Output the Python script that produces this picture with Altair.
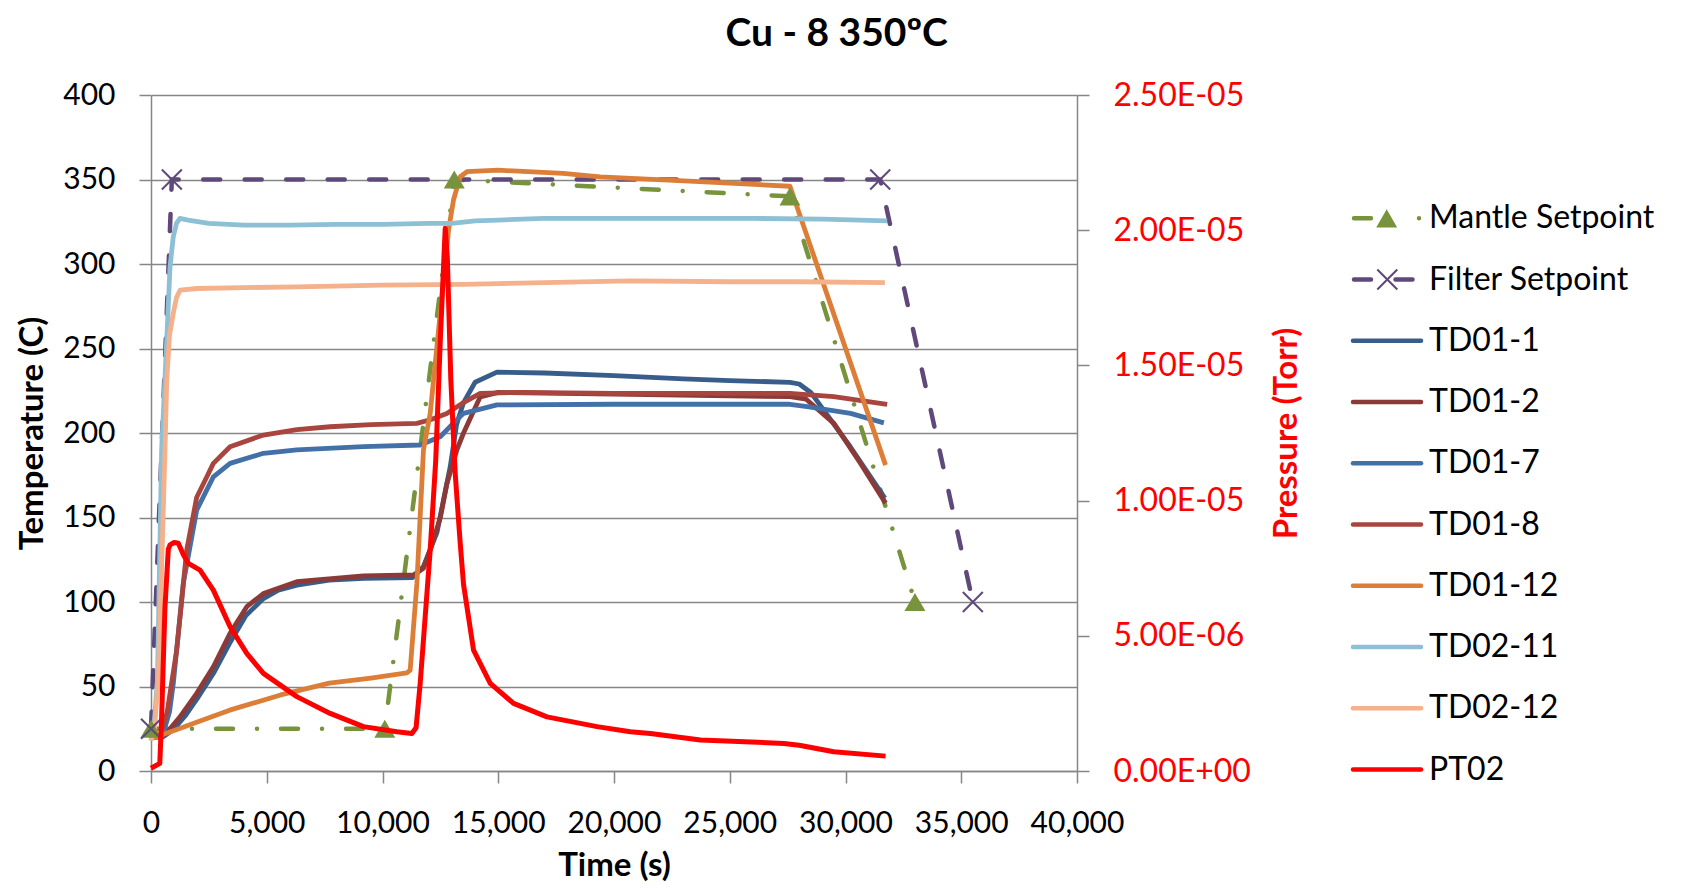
import altair as alt
import pandas as pd

# ---------------- data ----------------
series_names = ["Mantle Setpoint", "Filter Setpoint", "TD01-1", "TD01-2", "TD01-7",
                "TD01-8", "TD01-12", "TD02-11", "TD02-12", "PT02"]
series_colors = ["#77933C", "#5F497A", "#385D8A", "#8C3A37", "#4470A8",
                 "#A8453F", "#DC7E37", "#8DC0D5", "#F5B08C", "#FF0000"]

x_ticks = [0, 5000, 10000, 15000, 20000, 25000, 30000, 35000, 40000]
temp_ticks = [0, 50, 100, 150, 200, 250, 300, 350, 400]
press_ticks = [0, 5e-6, 1e-5, 1.5e-5, 2e-5, 2.5e-5]
press_labels = ["0.00E+00", "5.00E-06", "1.00E-05", "1.50E-05", "2.00E-05", "2.50E-05"]

mantle_t = [0, 10100, 13100, 27600, 33000]
mantle_v = [25, 25, 350, 340, 100]

filter_t = [0, 900, 31500, 35500]
filter_v = [25, 350, 350, 100]

td01_1_t = [0, 300, 600, 1000, 1500, 2000, 2700, 3400, 4100, 4855, 5500, 6300, 7700, 9200,
            11300, 11770, 12350, 12925, 13200, 13500, 14000, 14944, 17000, 20000, 23000,
            25000, 27600, 28000, 28500, 30200, 31700]
td01_1_v = [20, 20, 21, 25, 33, 43, 57.8, 75.7, 92, 102, 107, 110, 113, 114,
            114.5, 121, 141, 180, 205, 218, 230, 236, 235.5, 234, 232,
            231, 230, 229, 224, 192, 161.5]

td01_2_t = [0, 530, 1254, 1975, 2693, 3415, 4137, 4855, 6298, 9178, 11340, 11770, 12060,
            12500, 12781, 13213, 13500, 14222, 15000, 20000, 25000, 27600, 28300, 29500,
            30650, 31730]
td01_2_v = [20, 20.3, 32, 46, 61.7, 81.5, 97.2, 105, 112, 115.4, 116, 120, 130.8,
            150, 170, 190, 200, 221.4, 224, 223, 222, 221.5, 220, 205.7,
            182, 158.5]

td01_7_t = [0, 500, 800, 964, 1396, 1975, 2693, 3415, 4855, 6300, 9178, 11628, 12493,
            13000, 13500, 14944, 20000, 27600, 28344, 30217, 31657]
td01_7_v = [20, 21, 35, 51.9, 111, 154.4, 174, 182, 188, 190, 191.9, 192.9, 197.8,
            205, 211.6, 216.6, 217, 217, 215.6, 211.6, 206]

td01_8_t = [0, 400, 700, 1110, 1543, 1975, 2407, 2693, 3415, 4855, 6300, 7738, 9500,
            11485, 12100, 12781, 13500, 14222, 16000, 20000, 27600, 29493, 31800]
td01_8_v = [20, 21, 35, 71.6, 130.8, 162, 174, 182, 191.9, 198.8, 202, 203.7, 205,
            205.7, 208, 211.6, 218, 223.5, 224, 223.5, 223.5, 221.5, 217]

td01_12_t = [0, 170, 1000, 2000, 3400, 5600, 7700, 9500, 11050, 11195, 11485, 11770,
             12060, 12350, 12636, 12853, 13068, 13357, 13650, 15000, 17800, 19400,
             23700, 27600, 31730]
td01_12_v = [20, 20, 24, 29, 36, 45, 52, 55, 58, 59.7, 111, 190,
             211.6, 251, 290.5, 320, 338, 351.6, 354.6, 355.5, 353.6, 351.6,
             348.7, 346, 181]

td02_11_t = [0, 150, 280, 460, 680, 820, 960, 1100, 1250, 1600, 2500, 4000, 6000, 8000,
             10000, 12000, 13000, 14000, 15000, 17000, 20000, 23000, 26000, 29000, 31800]
td02_11_v = [18, 30, 54, 190, 255, 298, 316, 324, 327, 326, 324, 323, 323, 323.5,
             323.5, 324, 324, 325.5, 326, 327, 327, 327, 327, 326.5, 325.5]

td02_12_t = [0, 150, 320, 500, 605, 680, 800, 964, 1100, 1254, 2000, 4000, 6300, 10000,
             13500, 17000, 20700, 25000, 28000, 31700]
td02_12_v = [18, 25, 55, 140, 190, 231, 258, 271, 280, 284.5, 285.5, 286, 286.5, 287.5,
             288, 289, 290, 289.5, 289.5, 289]

pt02_t = [0, 380, 460, 600, 748, 821, 1000, 1180, 1400, 1612, 2118, 2693, 3415, 4137,
          4855, 6298, 7738, 9178, 10620, 11270, 11450, 11628, 12060, 12300, 12500, 12709,
          12800, 12950, 13141, 13350, 13500, 13933, 14655, 15662, 17104, 19266, 20706,
          21570, 23732, 27334, 28000, 29494, 31730]
pt02_p = [1e-7, 2.8e-7, 2e-6, 6e-6, 8.2e-6, 8.36e-6, 8.45e-6, 8.42e-6, 8.0e-6, 7.68e-6,
          7.43e-6, 6.69e-6, 5.34e-6, 4.35e-6, 3.61e-6, 2.75e-6, 2.13e-6, 1.64e-6,
          1.45e-6, 1.39e-6, 1.6e-6, 3.24e-6, 8.17e-6, 1.15e-5, 1.6e-5, 2.007e-5,
          1.9e-5, 1.45e-5, 1.1e-5, 8.5e-6, 6.9e-6, 4.47e-6, 3.24e-6, 2.5e-6, 2.0e-6,
          1.64e-6, 1.45e-6, 1.39e-6, 1.15e-6, 1.02e-6, 9.5e-7, 7.1e-7, 5.5e-7]

chart_title = "Cu - 8 350ºC"

# ---------------- tables ----------------
def frame(name, ts, vs, col="v"):
    return pd.DataFrame({"series": name, "t": ts, col: vs})

mantle_df = frame("Mantle Setpoint", mantle_t, mantle_v)
filter_df = frame("Filter Setpoint", filter_t, filter_v)
td_df = pd.concat([
    frame("TD01-1", td01_1_t, td01_1_v),
    frame("TD01-2", td01_2_t, td01_2_v),
    frame("TD01-7", td01_7_t, td01_7_v),
    frame("TD01-8", td01_8_t, td01_8_v),
    frame("TD01-12", td01_12_t, td01_12_v),
    frame("TD02-11", td02_11_t, td02_11_v),
    frame("TD02-12", td02_12_t, td02_12_v),
], ignore_index=True)
pt_df = frame("PT02", pt02_t, pt02_p, col="p")
legend_df = pd.DataFrame({"series": series_names, "row": list(range(len(series_names)))})
title_df = pd.DataFrame({"txt": [chart_title]})

GRAY = "#868686"
FONT = "Lato"
W, H = 926, 676

color = alt.Color("series:N", scale=alt.Scale(domain=series_names, range=series_colors),
                  legend=None)

x_axis = alt.Axis(values=x_ticks, format=",d", title="Time (s)", grid=False,
                  labelFlush=False, labelOverlap=False, labelPadding=25,
                  titleX=W / 2, titleY=104, titleAlign="center",
                  titleBaseline="alphabetic")
x_enc = alt.X("t:Q", scale=alt.Scale(domain=[0, 40000], nice=False), axis=x_axis)

y_temp = alt.Y("v:Q", scale=alt.Scale(domain=[0, 400], nice=False),
               axis=alt.Axis(values=temp_ticks, title="Temperature (C)", grid=True,
                             orient="left", titleX=-119, titleY=H / 2, titleAngle=270,
                             titleAlign="center", titleBaseline="middle"))

mantle_line = alt.Chart(mantle_df).mark_line(
    strokeWidth=4.5, strokeDash=[17, 24, 0.01, 24], strokeCap="round"
).encode(x=x_enc, y=y_temp, color=color)
filter_line = alt.Chart(filter_df).mark_line(
    strokeWidth=4.5, strokeDash=[17, 24.5], strokeCap="round"
).encode(x=x_enc, y=y_temp, color=color)
td_lines = alt.Chart(td_df).mark_line(strokeWidth=4.8, strokeJoin="round").encode(
    x=x_enc, y=y_temp, color=color, detail="series:N")
mantle_pts = alt.Chart(mantle_df).mark_point(
    shape="triangle-up", size=440, filled=True, opacity=1
).encode(x=x_enc, y=y_temp, color=color)
XSHAPE = "M-1,-1L1,1M-1,1L1,-1"
filter_pts = alt.Chart(filter_df).mark_point(
    shape=XSHAPE, size=400, filled=False, strokeWidth=2, opacity=1
).encode(x=x_enc, y=y_temp, color=color)

temp_layer = alt.layer(mantle_line, filter_line, td_lines, mantle_pts, filter_pts)

label_expr = "[" + ",".join("'%s'" % s for s in press_labels) + "][round(datum.value/5e-6)]"
y_press = alt.Y("p:Q", scale=alt.Scale(domain=[0, 2.5e-5], nice=False),
                axis=alt.Axis(orient="right", values=press_ticks, labelExpr=label_expr,
                              title="Pressure (Torr)", grid=False, labelColor="#FF0000",
                              labelFontSize=32, titleColor="#FF0000", titleX=209,
                              titleY=H / 2, titleAngle=270, titleAlign="center",
                              titleBaseline="middle"))
press_layer = alt.Chart(pt_df).mark_line(strokeWidth=5, color="#FF0000",
                                         strokeJoin="round").encode(x=x_enc, y=y_press)

# ---------------- legend (drawn as marks) ----------------
leg_y = alt.Y("row:Q", scale=alt.Scale(domain=[0, 9], range=[123.3, 674.6]), axis=None)
leg_solid = alt.Chart(legend_df).transform_filter("datum.row >= 2").mark_rule(
    strokeWidth=4.5, strokeCap="round"
).encode(x=alt.value(1202), x2=alt.value(1270), y=leg_y, color=color)
leg_mantle = alt.Chart(legend_df).transform_filter("datum.row == 0").mark_rule(
    strokeWidth=4.5, strokeCap="round", strokeDash=[17, 48, 0.01, 50]
).encode(x=alt.value(1203), x2=alt.value(1271), y=leg_y, color=color)
leg_filter = alt.Chart(legend_df).transform_filter("datum.row == 1").mark_rule(
    strokeWidth=4.5, strokeCap="round", strokeDash=[17, 24.5]
).encode(x=alt.value(1203), x2=alt.value(1264), y=leg_y, color=color)
leg_tri = alt.Chart(legend_df).transform_filter("datum.row == 0").mark_point(
    shape="triangle-up", size=440, filled=True, opacity=1
).encode(x=alt.value(1235.7), y=leg_y, color=color)
leg_x = alt.Chart(legend_df).transform_filter("datum.row == 1").mark_point(
    shape=XSHAPE, size=400, filled=False, strokeWidth=2, opacity=1
).encode(x=alt.value(1236.3), y=leg_y, color=color)
leg_text = alt.Chart(legend_df).mark_text(
    align="left", baseline="middle", font=FONT, fontSize=32, color="black"
).encode(x=alt.value(1278), y=leg_y, text="series:N")
title_mark = alt.Chart(title_df).mark_text(
    align="center", baseline="alphabetic", font=FONT, fontSize=39, fontWeight="bold",
    color="black"
).encode(x=alt.value(685.7), y=alt.value(-49), text="txt:N")

legend_layer = alt.layer(leg_solid, leg_mantle, leg_filter, leg_tri, leg_x, leg_text,
                         title_mark)

chart = alt.layer(temp_layer, press_layer, legend_layer).resolve_scale(
    y="independent"
).properties(
    width=W, height=H,
    autosize=alt.AutoSizeParams(type="none"),
    padding={"left": 143, "top": 87, "right": 600, "bottom": 113},
).configure_view(stroke=None).configure_axis(
    domainColor=GRAY, domainWidth=1.5, tickColor=GRAY, tickWidth=1.5, tickSize=12,
    gridColor=GRAY, gridWidth=1.5, labelFont=FONT, labelFontSize=30, labelColor="black",
    labelPadding=24, titleFont=FONT, titleFontSize=33, titleFontWeight="bold",
    titleColor="black"
)

chart.save("out.html", embed_options={"renderer": "svg", "actions": False})
